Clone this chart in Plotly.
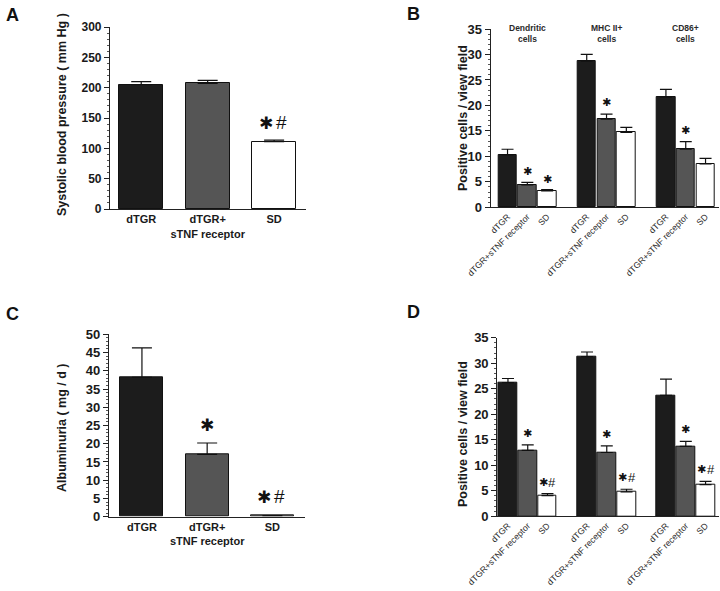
import plotly.graph_objects as go

# ---------------- data ----------------
treatments_AC = ["dTGR", "dTGR+<br>sTNF receptor", "SD"]
treatments_BD = ["dTGR", "dTGR+sTNF receptor", "SD"]

bp_mean = [205, 207, 111]
bp_err = [5, 5, 2.5]

alb_mean = [38.2, 17.1, 0.3]
alb_err = [8.1, 3.1, 0.0]

b_groups = ["Dendritic<br>cells", "MHC II+<br>cells", "CD86+<br>cells"]
b_dtgr = [10.3, 28.7, 21.6]
b_dtgr_err = [1.1, 1.3, 1.55]
b_stnf = [4.4, 17.3, 11.4]
b_stnf_err = [0.5, 1.0, 1.5]
b_sd = [3.2, 14.7, 8.5]
b_sd_err = [0.25, 1.0, 1.1]

d_groups = ["Monocytes/<br>Macrophages", "CD4+<br>T-cells", "CD8+<br>T-cells"]
d_dtgr = [26.2, 31.3, 23.7]
d_dtgr_err = [0.8, 0.9, 3.2]
d_stnf = [12.9, 12.5, 13.7]
d_stnf_err = [1.1, 1.3, 1.0]
d_sd = [4.05, 4.8, 6.2]
d_sd_err = [0.4, 0.5, 0.65]

# significance markers
sig_A = [(2, "*#", 141.8)]
sig_C = [(1, "*", 25.1), (2, "*#", 5.5)]
sig_B = [(0, 1, "*", 7.0), (0, 2, "*", 5.5), (1, 1, "*", 20.5), (2, 1, "*", 15.0)]
sig_D = [(0, 1, "*", 16.3), (0, 2, "*#", 6.7), (1, 1, "*", 16.1), (1, 2, "*#", 7.6),
         (2, 1, "*", 17.0), (2, 2, "*#", 9.1)]

# ---------------- style ----------------
W, H = 720, 591
FONT = "Liberation Sans, Arial, sans-serif"
COLORS = ["#1c1c1c", "#555555", "#ffffff"]
TXT = "#1a1a1a"


def px_x(p):
    return p / W


def px_y(p):
    return 1 - p / H


fig = go.Figure()

for vals, errs, ax in [(bp_mean, bp_err, ""), (alb_mean, alb_err, "3")]:
    fig.add_trace(go.Bar(
        x=list(range(len(vals))), y=vals,
        xaxis="x" + ax, yaxis="y" + ax,
        width=0.66,
        marker=dict(color=COLORS, line=dict(color="#111111", width=1)),
        error_y=dict(type="data", array=errs, arrayminus=[0] * len(errs),
                     symmetric=False, color="#111111", thickness=1.2, width=10),
        showlegend=False,
    ))

for ax, series in [("2", [(b_dtgr, b_dtgr_err), (b_stnf, b_stnf_err), (b_sd, b_sd_err)]),
                   ("4", [(d_dtgr, d_dtgr_err), (d_stnf, d_stnf_err), (d_sd, d_sd_err)])]:
    for t, (vals, errs) in enumerate(series):
        fig.add_trace(go.Bar(
            x=[g * 4 + t for g in range(len(vals))], y=vals,
            xaxis="x" + ax, yaxis="y" + ax,
            width=0.94,
            marker=dict(color=COLORS[t], line=dict(color="#111111", width=1)),
            error_y=dict(type="data", array=errs, arrayminus=[0] * len(errs),
                         symmetric=False, color="#111111", thickness=1.2, width=6),
            showlegend=False,
        ))

tickpos_BD = [g * 4 + t for g in range(3) for t in range(3)]
ticktext_BD = [treatments_BD[t] for g in range(3) for t in range(3)]

common_x = dict(showline=True, linecolor="#222222", linewidth=1.2, ticks="",
                showgrid=False, zeroline=False, fixedrange=True, automargin=False)


def yax(domain_y, anchor, rng, dtick, minor_dtick, size):
    return dict(
        domain=domain_y, range=rng, anchor=anchor, automargin=False,
        showline=True, linecolor="#222222", linewidth=1.2,
        ticks="outside", ticklen=5, tickwidth=1.2, tickcolor="#222222",
        dtick=dtick, tick0=0,
        minor=dict(ticks="outside", ticklen=2, tickcolor="#555555", dtick=minor_dtick, showgrid=False),
        showgrid=False, zeroline=False, fixedrange=True,
        tickfont=dict(family=FONT, size=size, color=TXT, weight="bold"),
    )


layout = dict(
    width=W, height=H,
    margin=dict(l=0, r=0, t=0, b=0, autoexpand=False),
    paper_bgcolor="white", plot_bgcolor="rgba(0,0,0,0)",
    bargap=0,
    font=dict(family=FONT, color=TXT),
)

layout["xaxis"] = dict(common_x, domain=[px_x(110), px_x(306)], range=[-0.47, 2.48], anchor="y",
                       tickvals=[0, 1, 2], ticktext=treatments_AC,
                       tickfont=dict(family=FONT, size=11, color=TXT, weight="bold"))
layout["yaxis"] = yax([px_y(209), px_y(27)], "x", [0, 300], 50, 10, 12)

layout["xaxis2"] = dict(common_x, domain=[px_x(490.7), px_x(719)], range=[-0.85, 10.68], anchor="y2",
                        tickvals=tickpos_BD, ticktext=ticktext_BD, tickangle=-45,
                        tickfont=dict(family=FONT, size=8.7, color="#2a2a2a"))
layout["yaxis2"] = yax([px_y(207.3), px_y(29)], "x2", [0, 35], 5, 1, 13)

layout["xaxis3"] = dict(common_x, domain=[px_x(109), px_x(305)], range=[-0.505, 2.5], anchor="y3",
                        tickvals=[0, 1, 2], ticktext=treatments_AC,
                        tickfont=dict(family=FONT, size=11, color=TXT, weight="bold"))
layout["yaxis3"] = yax([px_y(516.7), px_y(334.3)], "x3", [0, 50], 5, 1, 13)

layout["xaxis4"] = dict(common_x, domain=[px_x(497.3), px_x(719)], range=[-0.54, 10.68], anchor="y4",
                        tickvals=tickpos_BD, ticktext=ticktext_BD, tickangle=-45,
                        tickfont=dict(family=FONT, size=8.7, color="#2a2a2a"))
layout["yaxis4"] = yax([px_y(516.3), px_y(337.7)], "x4", [0, 35], 5, 1, 13)

fig.update_layout(**layout)

ann = []

for letter, x, y in [("A", 12, 15), ("B", 413, 14), ("C", 12, 314), ("D", 413, 312)]:
    ann.append(dict(text=letter, xref="paper", yref="paper", x=px_x(x), y=px_y(y),
                    xanchor="center", yanchor="middle", showarrow=False,
                    font=dict(family=FONT, size=18, color="#111111", weight="bold")))

for title, x, y in [("Systolic blood pressure ( mm Hg )", 62, 115),
                    ("Positive cells / view field", 463, 118),
                    ("Albuminuria ( mg / d )", 62, 428),
                    ("Positive cells / view field", 463, 434)]:
    ann.append(dict(text=title, xref="paper", yref="paper", x=px_x(x), y=px_y(y),
                    xanchor="center", yanchor="middle", textangle=-90, showarrow=False,
                    font=dict(family=FONT, size=12.5, color=TXT, weight="bold")))

for groups, ax, yv in [(b_groups, "2", 34.1), (d_groups, "4", 37.2)]:
    for g, name in enumerate(groups):
        ann.append(dict(text=name, xref="x" + ax, yref="y" + ax, x=g * 4 + 1, y=yv,
                        xanchor="center", yanchor="middle", showarrow=False,
                        font=dict(family=FONT, size=8.5, color="#2a2a2a", weight="bold")))


def add_sig(ax, xpos, label, yv, big):
    star_size = 17 if big else 11
    hash_size = 19 if big else 13
    if label == "*":
        ann.append(dict(text="✱", xref="x" + ax, yref="y" + ax, x=xpos, y=yv,
                        xanchor="center", yanchor="middle", showarrow=False,
                        font=dict(family="DejaVu Sans", size=star_size, color="#111111")))
    else:
        off_s = -8 if big else -4
        off_h = 7 if big else 5
        ann.append(dict(text="✱", xref="x" + ax, yref="y" + ax, x=xpos, y=yv,
                        xanchor="center", yanchor="middle", showarrow=False, xshift=off_s,
                        font=dict(family="DejaVu Sans", size=star_size, color="#111111")))
        ann.append(dict(text="#", xref="x" + ax, yref="y" + ax, x=xpos, y=yv,
                        xanchor="center", yanchor="middle", showarrow=False, xshift=off_h,
                        font=dict(family=FONT, size=hash_size, color="#111111")))


for t, label, yv in sig_A:
    add_sig("", t, label, yv, True)
for t, label, yv in sig_C:
    add_sig("3", t, label, yv, True)
for g, t, label, yv in sig_B:
    add_sig("2", g * 4 + t, label, yv, False)
for g, t, label, yv in sig_D:
    add_sig("4", g * 4 + t, label, yv, False)

fig.update_layout(annotations=ann)

fig.write_html("out.html", config={"displayModeBar": False},
               post_script="document.body.style.margin='0px';")
